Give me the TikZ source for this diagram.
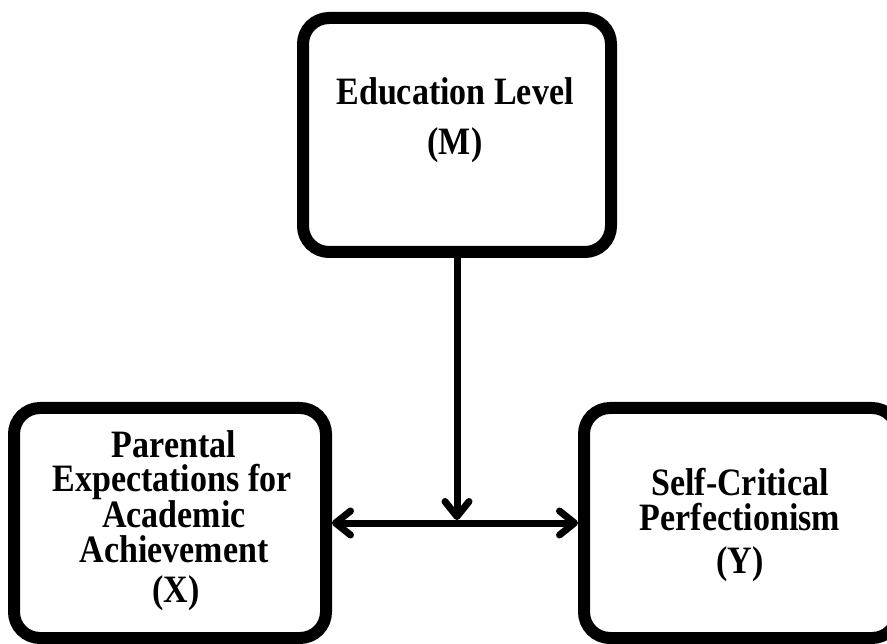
\documentclass[tikz,border=0pt]{standalone}
\usepackage{fontspec}
\setmainfont{Liberation Serif}
\usetikzlibrary{arrows.meta}
\newcommand{\tallt}[1]{\scalebox{1}[1.14]{#1}}
\begin{document}
\begin{tikzpicture}[x=1pt,y=-1pt,
  box/.style={draw=black, line width=12pt, rounded corners=26pt, inner sep=0pt},
  lbl/.style={anchor=base, inner sep=0pt, font=\fontsize{34}{36}\selectfont\bfseries},
  conn/.style={draw=black, line width=7pt, line cap=round,
    arrows={-Straight Barb[length=15pt, width=24pt, round]}},
  dconn/.style={draw=black, line width=7pt, line cap=round,
    arrows={Straight Barb[length=15pt, width=24pt, round]-Straight Barb[length=15pt, width=24pt, round]}}]
\useasboundingbox (0,0) rectangle (887,644);
\clip (0,0) rectangle (887,644);
\fill[white] (0,0) rectangle (887,644);
% boxes
\node[box, minimum width=308pt, minimum height=234pt] (M) at (457,135) {};
\node[box, minimum width=312pt, minimum height=230pt] (X) at (170,523) {};
\node[box, minimum width=314pt, minimum height=230pt] (Y) at (741,523) {};
% texts
\node[lbl] (m1) at (455,105) {\tallt{Education Level}};
\node[lbl] (m2) at (455,155) {\tallt{(M)}};
\node[lbl] (x1) at (174,457) {\tallt{Parental}};
\node[lbl] (x2) at (172,492) {\tallt{Expectations for}};
\node[lbl] (x3) at (174,527) {\tallt{Academic}};
\node[lbl] (x4) at (174,562) {\tallt{Achievement}};
\node[lbl] (x5) at (176,602) {\tallt{(X)}};
\node[lbl] (y1) at (740,495) {\tallt{Self-Critical}};
\node[lbl] (y2) at (740,530) {\tallt{Perfectionism}};
\node[lbl] (y3) at (740,573) {\tallt{(Y)}};
% connectors
\coordinate (j) at (M.south |- X.east);
\path[dconn] (X.east) -- (Y.west);
\path[conn, shorten >=3pt] (M.south) -- (j);
\end{tikzpicture}
\end{document}
